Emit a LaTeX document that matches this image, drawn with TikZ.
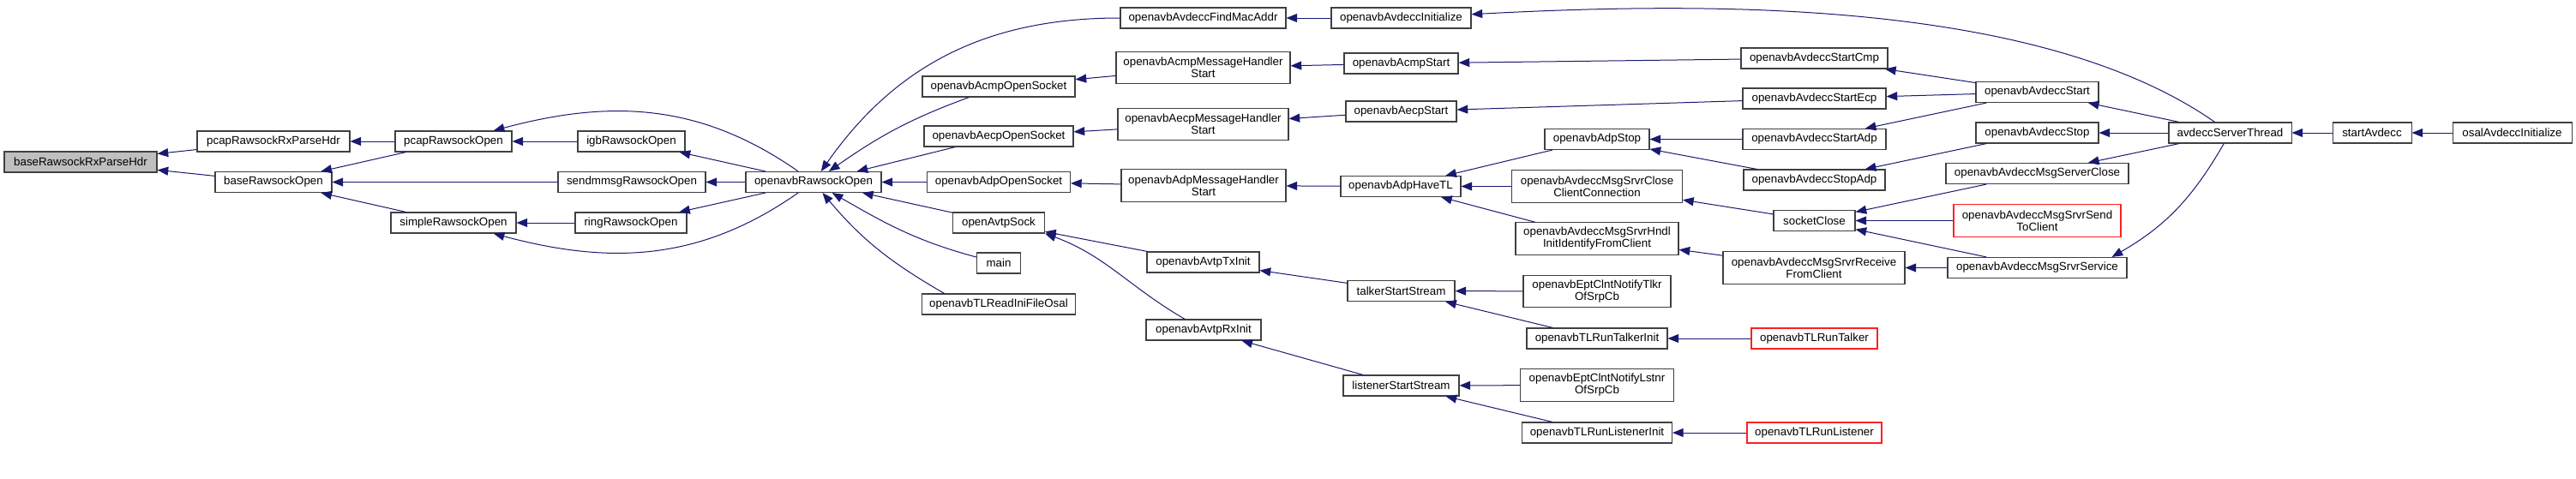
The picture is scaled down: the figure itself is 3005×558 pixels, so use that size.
\documentclass[tikz,border=0pt]{standalone}
\usepackage{fontspec}
\setmainfont{Liberation Sans}
\usepackage{tikz}
\usetikzlibrary{arrows.meta,positioning}
\definecolor{edgeblue}{HTML}{191970}
\definecolor{rootgray}{HTML}{BFBFBF}
\definecolor{boxline}{HTML}{404040}
\definecolor{cutred}{HTML}{FF2020}

\begin{document}
\begin{tikzpicture}[
    x=0.75pt,y=0.75pt,
    fn/.style={draw=boxline,line width=0.8pt,fill=white,minimum height=18pt,inner sep=1pt,align=center,font=\fontsize{10}{10.5}\selectfont},
    tall/.style={minimum height=28pt},
    boxw/.style={minimum width=#1*0.75pt},
    root/.style={fill=rootgray},
    cut/.style={draw=cutred},
    call/.style={{Triangle[length=9.5pt,width=7.5pt]}-,draw=edgeblue,line width=0.75pt}
]
    \useasboundingbox (0,0) rectangle (3005,-558);

    % raw socket layer
    \node[fn,root,boxw=178] (baseRx) at (94,-189) {baseRawsockRxParseHdr};
    \node[fn,boxw=178] (pcapRx) at (319,-165) {pcapRawsockRxParseHdr};
    \node[fn,boxw=136] (baseO) at (319,-212.5) {baseRawsockOpen};
    \node[fn,boxw=136] (pcapO) at (529,-165) {pcapRawsockOpen};
    \node[fn,boxw=146] (simpleO) at (529,-260) {simpleRawsockOpen};
    \node[fn,boxw=125] (igbO) at (736.5,-165) {igbRawsockOpen};
    \node[fn,boxw=172] (sendmmsgO) at (737,-212.5) {sendmmsgRawsockOpen};
    \node[fn,boxw=130] (ringO) at (736,-260) {ringRawsockOpen};
    \node[fn,boxw=158] (rso) at (949,-212.5) {openavbRawsockOpen};

    % sockets
    \node[fn,boxw=193] (findMac) at (1403.5,-21) {openavbAvdeccFindMacAddr};
    \node[fn,boxw=178] (acmpSock) at (1165,-101) {openavbAcmpOpenSocket};
    \node[fn,boxw=174] (aecpSock) at (1165,-159) {openavbAecpOpenSocket};
    \node[fn,boxw=167] (adpSock) at (1165,-212.5) {openavbAdpOpenSocket};
    \node[fn,boxw=107] (avtpSock) at (1165,-260) {openAvtpSock};
    \node[fn,boxw=51] (mainF) at (1165,-307) {main};
    \node[fn,boxw=179] (tlIni) at (1165,-355) {openavbTLReadIniFileOsal};

    \node[fn,tall,boxw=203] (acmpMH) at (1403.5,-79) {openavbAcmpMessageHandler\\Start};
    \node[fn,tall,boxw=199] (aecpMH) at (1403.5,-145) {openavbAecpMessageHandler\\Start};
    \node[fn,tall,boxw=192] (adpMH) at (1404,-216.5) {openavbAdpMessageHandler\\Start};
    \node[fn,boxw=131] (txInit) at (1403.5,-306) {openavbAvtpTxInit};
    \node[fn,boxw=134] (rxInit) at (1404,-385) {openavbAvtpRxInit};

    % protocol start
    \node[fn,boxw=163] (avdInit) at (1634.5,-21) {openavbAvdeccInitialize};
    \node[fn,boxw=133] (acmpStart) at (1634.5,-74) {openavbAcmpStart};
    \node[fn,boxw=129] (aecpStart) at (1634.5,-130) {openavbAecpStart};
    \node[fn,boxw=140] (adpHaveTL) at (1634,-217.5) {openavbAdpHaveTL};
    \node[fn,boxw=125] (talkerSS) at (1634.5,-339.5) {talkerStartStream};
    \node[fn,boxw=135] (listenerSS) at (1634.5,-450) {listenerStartStream};

    \node[fn,boxw=122] (adpStop) at (1863,-162.5) {openavbAdpStop};
    \node[fn,tall,boxw=199] (closeConn) at (1863,-217.5) {openavbAvdeccMsgSrvrClose\\ClientConnection};
    \node[fn,tall,boxw=190] (hndlInit) at (1863,-278.5) {openavbAvdeccMsgSrvrHndl\\InitIdentifyFromClient};
    \node[fn,tall,boxw=172] (eptTlkr) at (1863,-340) {openavbEptClntNotifyTlkr\\OfSrpCb};
    \node[fn,boxw=164] (tlTalkerInit) at (1863,-395) {openavbTLRunTalkerInit};
    \node[fn,tall,boxw=179] (eptLstnr) at (1863,-449.5) {openavbEptClntNotifyLstnr\\OfSrpCb};
    \node[fn,boxw=175] (tlListenerInit) at (1863,-505) {openavbTLRunListenerInit};

    % avdecc control
    \node[fn,boxw=171] (startCmp) at (2116.5,-68) {openavbAvdeccStartCmp};
    \node[fn,boxw=167] (startEcp) at (2116.5,-115) {openavbAvdeccStartEcp};
    \node[fn,boxw=167] (startAdp) at (2116.5,-162.5) {openavbAvdeccStartAdp};
    \node[fn,boxw=165] (stopAdp) at (2116.5,-210) {openavbAvdeccStopAdp};
    \node[fn,boxw=95] (sockClose) at (2116.5,-257.5) {socketClose};
    \node[fn,tall,boxw=212] (recvClient) at (2116,-312.5) {openavbAvdeccMsgSrvrReceive\\FromClient};
    \node[fn,cut,boxw=147] (tlTalker) at (2116.5,-395) {openavbTLRunTalker};
    \node[fn,cut,boxw=157] (tlListener) at (2116.5,-505) {openavbTLRunListener};

    \node[fn,boxw=143] (avdStart) at (2376.5,-107.5) {openavbAvdeccStart};
    \node[fn,boxw=143] (avdStop) at (2376.5,-155) {openavbAvdeccStop};
    \node[fn,boxw=213] (msgSrvClose) at (2376.5,-202.5) {openavbAvdeccMsgServerClose};
    \node[fn,tall,cut,boxw=195] (sendToClient) at (2376.5,-257.5) {openavbAvdeccMsgSrvrSend\\ToClient};
    \node[fn,boxw=209] (srvService) at (2376.5,-312.5) {openavbAvdeccMsgSrvrService};

    \node[fn,boxw=143] (server) at (2601.5,-155) {avdeccServerThread};
    \node[fn,boxw=92] (startAvdecc) at (2767,-155) {startAvdecc};
    \node[fn,boxw=139] (osalInit) at (2930.5,-155) {osalAvdeccInitialize};

    % callers
    \draw[call] (baseRx) -- (pcapRx);
    \draw[call] (baseRx) -- (baseO);
    \draw[call] (pcapRx) -- (pcapO);
    \draw[call] (baseO) -- (pcapO);
    \draw[call] (baseO) -- (sendmmsgO);
    \draw[call] (baseO) -- (simpleO);
    \draw[call] (pcapO) -- (igbO);
    \draw[call] (pcapO) to[out=15,in=145] (rso);
    \draw[call] (simpleO) -- (ringO);
    \draw[call] (simpleO) to[out=-15,in=-145] (rso);
    \draw[call] (igbO) -- (rso);
    \draw[call] (sendmmsgO) -- (rso);
    \draw[call] (ringO) -- (rso);

    \draw[call] (rso) to[out=55,in=180] (findMac);
    \draw[call] (rso) to[out=35,in=200] (acmpSock);
    \draw[call] (rso) -- (aecpSock);
    \draw[call] (rso) -- (adpSock);
    \draw[call] (rso) -- (avtpSock);
    \draw[call] (rso) to[out=-30,in=165] (mainF);
    \draw[call] (rso) to[out=-50,in=150] ([xshift=20pt]tlIni.north west);

    \draw[call] (findMac) -- (avdInit);
    \draw[call] (acmpSock) -- (acmpMH);
    \draw[call] (aecpSock) -- (aecpMH);
    \draw[call] (adpSock) -- (adpMH);
    \draw[call] (avtpSock) -- (txInit);
    \draw[call] (avtpSock.south east) to[out=-20,in=150] (rxInit);

    \draw[call] (acmpMH) -- (acmpStart);
    \draw[call] (aecpMH) -- (aecpStart);
    \draw[call] (adpMH) -- (adpHaveTL);
    \draw[call] (txInit) -- (talkerSS);
    \draw[call] (rxInit) -- (listenerSS);

    \draw[call] (avdInit) to[out=3,in=145,looseness=0.75] (server);
    \draw[call] (acmpStart) -- (startCmp);
    \draw[call] (aecpStart) -- (startEcp);
    \draw[call] (adpHaveTL) -- (adpStop);
    \draw[call] (adpHaveTL) -- (closeConn);
    \draw[call] (adpHaveTL) -- (hndlInit);
    \draw[call] (talkerSS) -- (eptTlkr);
    \draw[call] (talkerSS) -- (tlTalkerInit);
    \draw[call] (listenerSS) -- (eptLstnr);
    \draw[call] (listenerSS) -- (tlListenerInit);

    \draw[call] (adpStop) -- (startAdp);
    \draw[call] (adpStop) -- (stopAdp);
    \draw[call] (closeConn) -- (sockClose);
    \draw[call] (hndlInit) -- (recvClient);
    \draw[call] (tlTalkerInit) -- (tlTalker);
    \draw[call] (tlListenerInit) -- (tlListener);

    \draw[call] (startCmp) -- (avdStart);
    \draw[call] (startEcp) -- (avdStart);
    \draw[call] (startAdp) -- (avdStart);
    \draw[call] (stopAdp) -- (avdStop);
    \draw[call] (sockClose) -- (msgSrvClose);
    \draw[call] (sockClose) -- (sendToClient);
    \draw[call] (sockClose) -- (srvService);
    \draw[call] (recvClient) -- (srvService);

    \draw[call] (avdStart) -- (server);
    \draw[call] (avdStop) -- (server);
    \draw[call] (msgSrvClose) -- (server);
    \draw[call] ([xshift=-13.5pt]srvService.north east) to[out=30,in=-120] (server);
    \draw[call] (server) -- (startAvdecc);
    \draw[call] (startAvdecc) -- (osalInit);
\end{tikzpicture}
\end{document}
